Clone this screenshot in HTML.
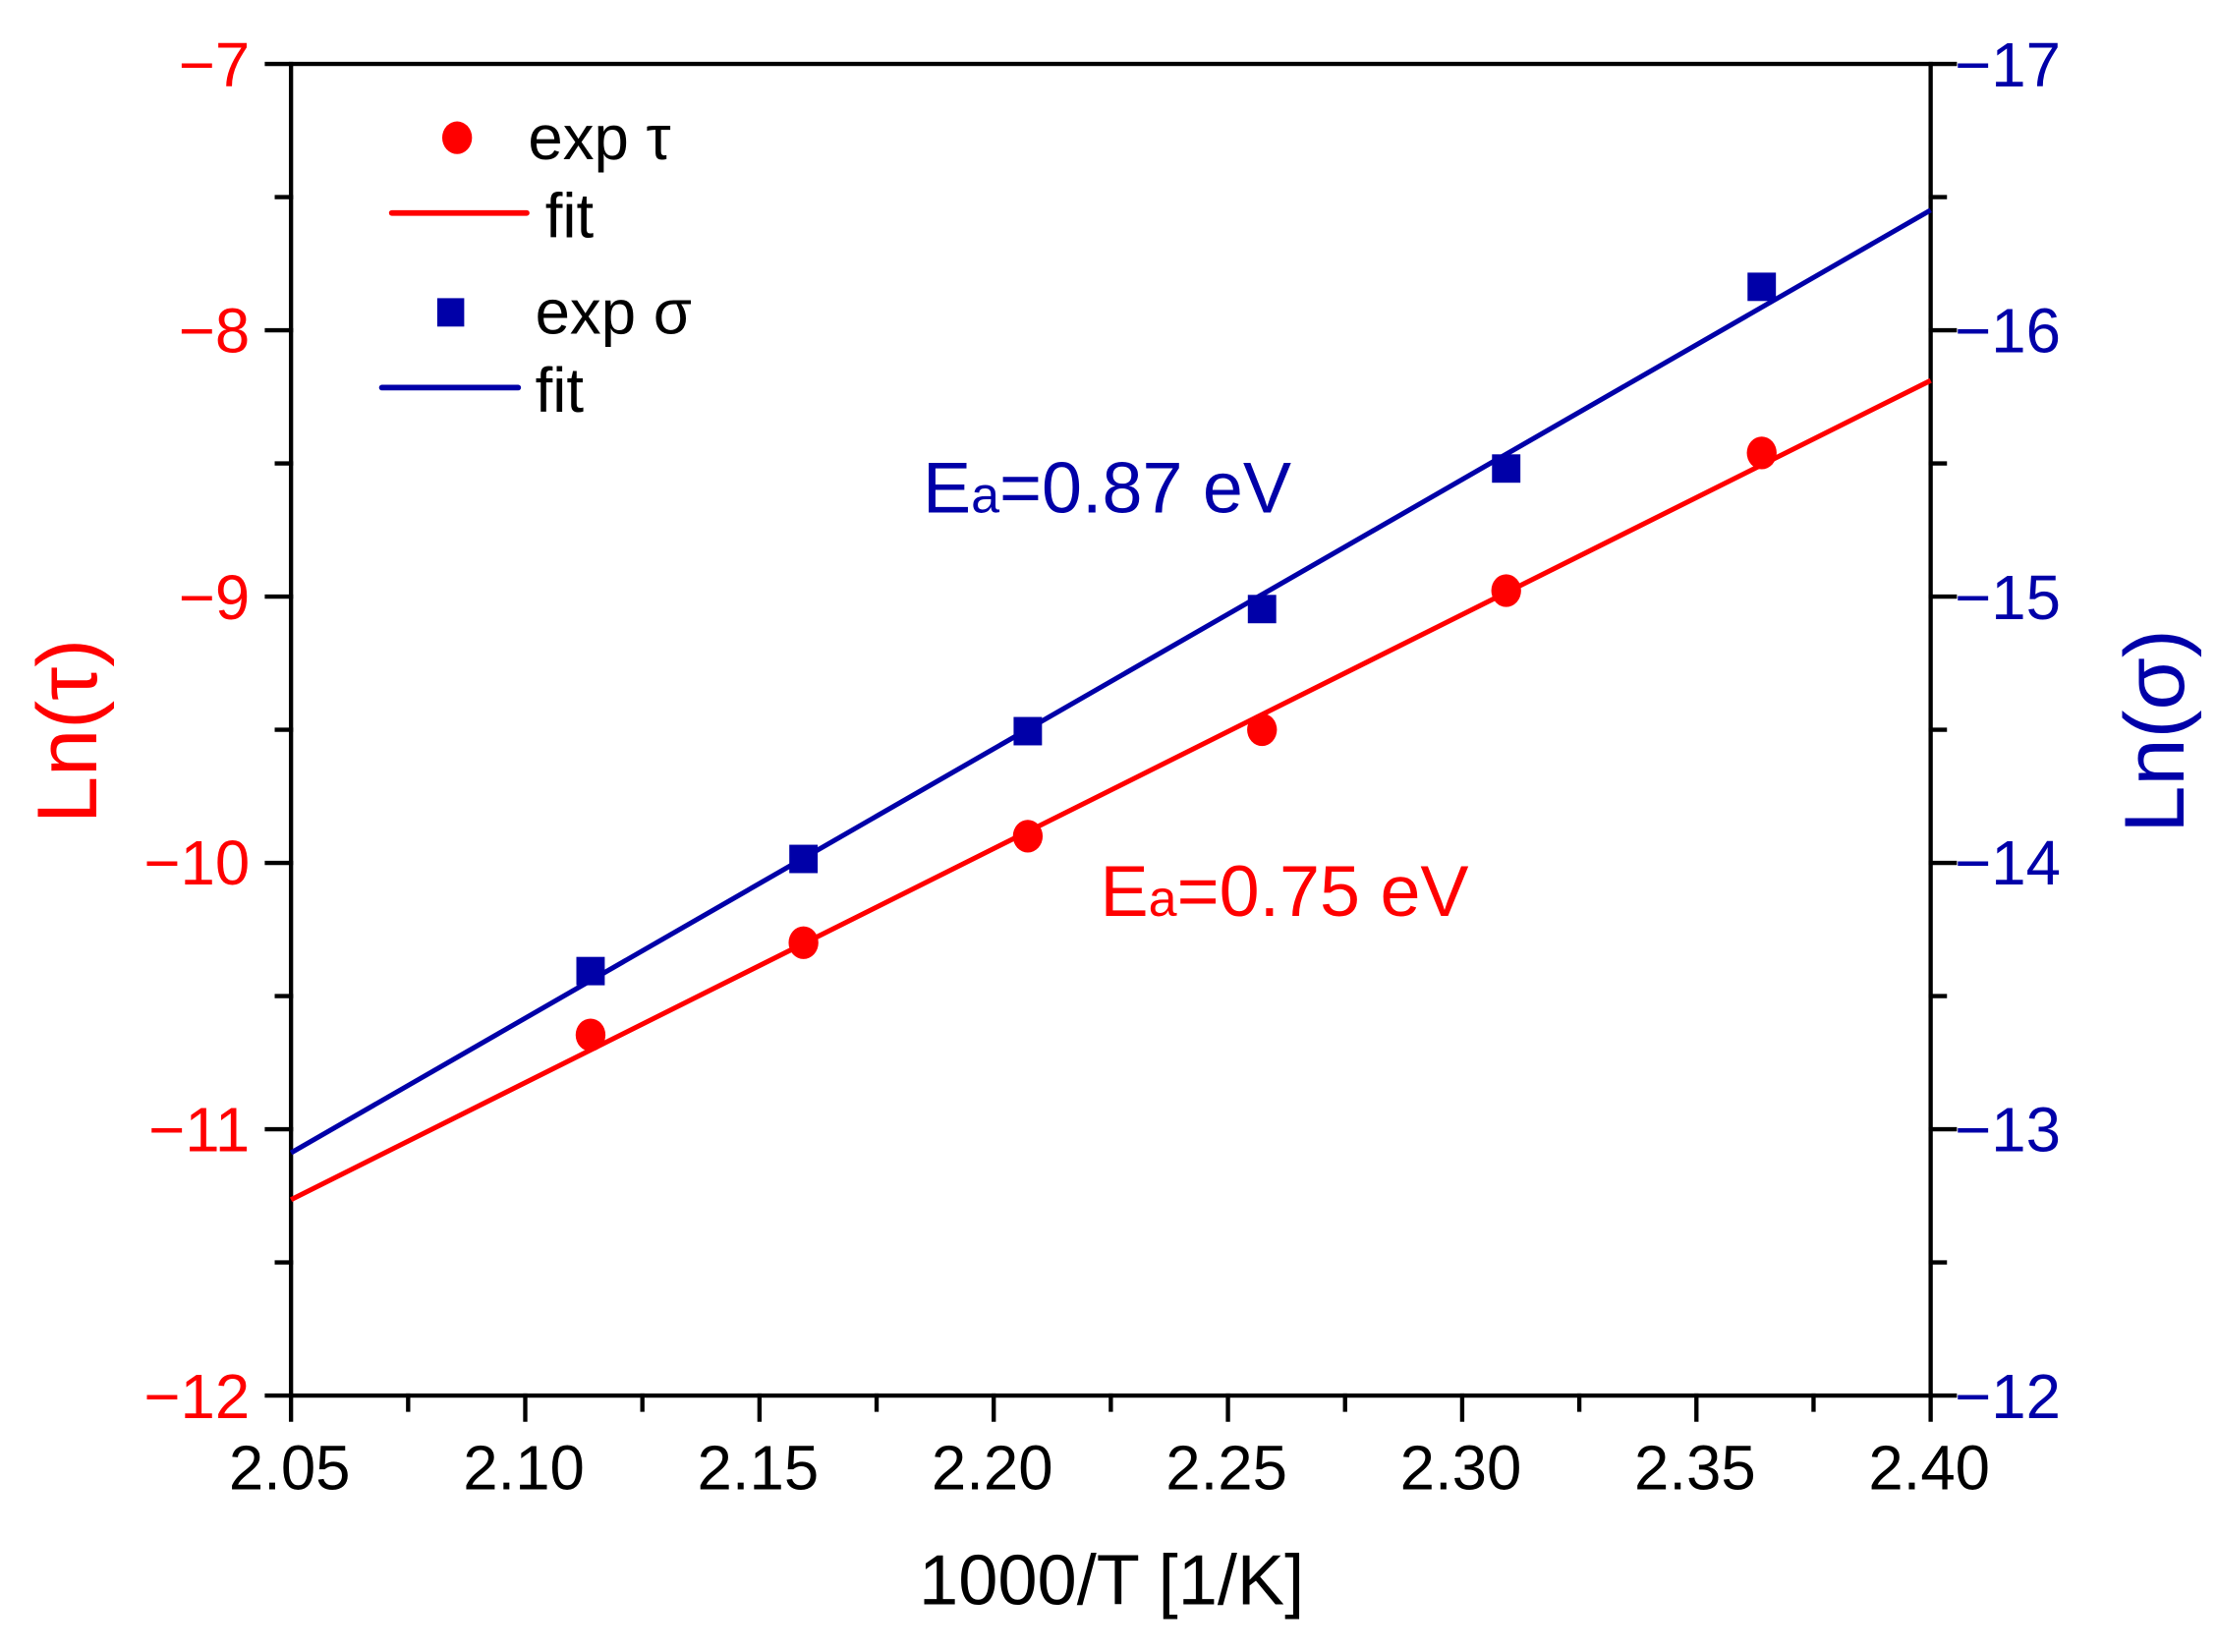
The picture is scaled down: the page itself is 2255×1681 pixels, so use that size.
<!DOCTYPE html>
<html><head><meta charset="utf-8"><style>html,body{margin:0;padding:0;background:#fff}svg{display:block}</style></head><body>
<svg width="2255" height="1681" viewBox="0 0 1561 1163.6" xmlns="http://www.w3.org/2000/svg" font-family="Liberation Sans, Arial, sans-serif">
<rect width="1561" height="1164" fill="#fff"/>
<g stroke="#000" stroke-width="3" fill="none" stroke-linecap="square">
<rect x="205" y="45" width="1155" height="938"/>
<path d="M205 45h-17M205 232.6h-17M205 420.2h-17M205 607.8h-17M205 795.4h-17M205 983h-17"/>
<path d="M205 138.8h-10M205 326.4h-10M205 514h-10M205 701.6h-10M205 889.2h-10"/>
<path d="M1360 45h17M1360 232.6h17M1360 420.2h17M1360 607.8h17M1360 795.4h17M1360 983h17"/>
<path d="M1360 138.8h10M1360 326.4h10M1360 514h10M1360 701.6h10M1360 889.2h10"/>
<path d="M205 983v17M370 983v17M535 983v17M700 983v17M865 983v17M1030 983v17M1195 983v17M1360 983v17"/>
<path d="M287.5 983v10M452.5 983v10M617.5 983v10M782.5 983v10M947.5 983v10M1112.5 983v10M1277.5 983v10"/>
</g>
<g font-size="44" fill="#ff0000" text-anchor="end">
<text x="176" y="61">−7</text><text x="176" y="248">−8</text><text x="176" y="436">−9</text>
<text x="176" y="623">−10</text><text x="176" y="811">−11</text><text x="176" y="999">−12</text>
</g>
<g font-size="44" fill="#0000a8" text-anchor="start">
<text x="1377" y="61">−17</text><text x="1377" y="248">−16</text><text x="1377" y="436">−15</text>
<text x="1377" y="623">−14</text><text x="1377" y="811">−13</text><text x="1377" y="999">−12</text>
</g>
<g font-size="44" fill="#000" text-anchor="middle">
<text x="204" y="1049">2.05</text><text x="369" y="1049">2.10</text><text x="534" y="1049">2.15</text>
<text x="699" y="1049">2.20</text><text x="864" y="1049">2.25</text><text x="1029" y="1049">2.30</text>
<text x="1194" y="1049">2.35</text><text x="1359" y="1049">2.40</text>
</g>
<text x="783" y="1130" font-size="50" text-anchor="middle" fill="#000">1000/T [1/K]</text>
<text transform="translate(68,515) rotate(-90)" font-size="60" text-anchor="middle" fill="#ff0000">Ln(τ)</text>
<text transform="translate(1538,515) rotate(-90)" font-size="60" text-anchor="middle" fill="#0000a8">Ln(σ)</text>
<line x1="205" y1="845" x2="1360" y2="268" stroke="#ff0000" stroke-width="3.5"/>
<line x1="205" y1="812" x2="1360" y2="148" stroke="#0000a8" stroke-width="3.5"/>
<g fill="#ff0000">
<ellipse cx="416" cy="729" rx="10.5" ry="11.5"/><ellipse cx="566" cy="664" rx="10.5" ry="11.5"/>
<ellipse cx="724" cy="589" rx="10.5" ry="11.5"/><ellipse cx="889" cy="514" rx="10.5" ry="11.5"/>
<ellipse cx="1061" cy="416" rx="10.5" ry="11.5"/><ellipse cx="1241" cy="319" rx="10.5" ry="11.5"/>
</g>
<g fill="#0000a8">
<rect x="406" y="674" width="20" height="20"/><rect x="556" y="595" width="20" height="20"/>
<rect x="714" y="505" width="20" height="20"/><rect x="879" y="419" width="20" height="20"/>
<rect x="1051" y="320" width="20" height="20"/><rect x="1231" y="192" width="20" height="20"/>
</g>
<ellipse cx="322" cy="97" rx="10.5" ry="11.5" fill="#ff0000"/>
<text x="372" y="112" font-size="44" fill="#000">exp τ</text>
<line x1="276" y1="150" x2="371" y2="150" stroke="#ff0000" stroke-width="4" stroke-linecap="round"/>
<text x="384" y="167" font-size="44" fill="#000">fit</text>
<rect x="308" y="210" width="19" height="20" fill="#0000a8"/>
<text x="377" y="235" font-size="44" fill="#000">exp σ</text>
<line x1="269" y1="273" x2="365" y2="273" stroke="#0000a8" stroke-width="4" stroke-linecap="round"/>
<text x="377" y="290" font-size="44" fill="#000">fit</text>
<text x="650" y="361" font-size="51" fill="#0000a8">E<tspan font-size="36">a</tspan>=0.87 eV</text>
<text x="775" y="645" font-size="51" fill="#ff0000">E<tspan font-size="36">a</tspan>=0.75 eV</text>
</svg>
</body></html>
